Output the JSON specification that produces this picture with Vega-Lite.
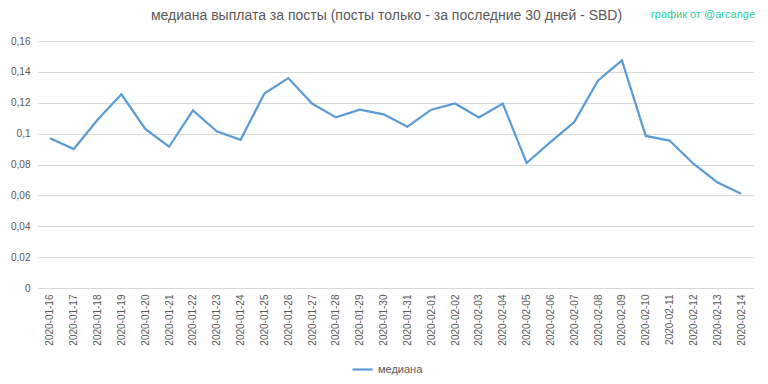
{
  "$schema": "https://vega.github.io/schema/vega-lite/v6.json",
  "width": 715,
  "height": 247,
  "autosize": {"type": "none"},
  "padding": {"left": 38, "top": 41, "right": 15, "bottom": 96},
  "background": "white",
  "config": {
    "view": {"stroke": null},
    "font": "Liberation Sans",
    "axis": {"labelColor": "#595959", "labelFont": "Liberation Sans"}
  },
  "title": {
    "text": "медиана выплата за посты  (посты только - за последние 30 дней - SBD)",
    "anchor": "middle",
    "dx": -9,
    "dy": 28,
    "offset": 14,
    "fontSize": 14,
    "fontWeight": "normal",
    "color": "#595959",
    "font": "Liberation Sans"
  },
  "datasets": {
    "main": [
      {"date": "2020-01-16", "value": 0.097, "series": "медиана"},
      {"date": "2020-01-17", "value": 0.090, "series": "медиана"},
      {"date": "2020-01-18", "value": 0.109, "series": "медиана"},
      {"date": "2020-01-19", "value": 0.1255, "series": "медиана"},
      {"date": "2020-01-20", "value": 0.103, "series": "медиана"},
      {"date": "2020-01-21", "value": 0.0915, "series": "медиана"},
      {"date": "2020-01-22", "value": 0.115, "series": "медиана"},
      {"date": "2020-01-23", "value": 0.1015, "series": "медиана"},
      {"date": "2020-01-24", "value": 0.096, "series": "медиана"},
      {"date": "2020-01-25", "value": 0.126, "series": "медиана"},
      {"date": "2020-01-26", "value": 0.136, "series": "медиана"},
      {"date": "2020-01-27", "value": 0.1195, "series": "медиана"},
      {"date": "2020-01-28", "value": 0.1105, "series": "медиана"},
      {"date": "2020-01-29", "value": 0.1155, "series": "медиана"},
      {"date": "2020-01-30", "value": 0.1125, "series": "медиана"},
      {"date": "2020-01-31", "value": 0.1045, "series": "медиана"},
      {"date": "2020-02-01", "value": 0.1155, "series": "медиана"},
      {"date": "2020-02-02", "value": 0.1195, "series": "медиана"},
      {"date": "2020-02-03", "value": 0.1105, "series": "медиана"},
      {"date": "2020-02-04", "value": 0.1195, "series": "медиана"},
      {"date": "2020-02-05", "value": 0.081, "series": "медиана"},
      {"date": "2020-02-06", "value": 0.0945, "series": "медиана"},
      {"date": "2020-02-07", "value": 0.1075, "series": "медиана"},
      {"date": "2020-02-08", "value": 0.1345, "series": "медиана"},
      {"date": "2020-02-09", "value": 0.1475, "series": "медиана"},
      {"date": "2020-02-10", "value": 0.0985, "series": "медиана"},
      {"date": "2020-02-11", "value": 0.0955, "series": "медиана"},
      {"date": "2020-02-12", "value": 0.0805, "series": "медиана"},
      {"date": "2020-02-13", "value": 0.0685, "series": "медиана"},
      {"date": "2020-02-14", "value": 0.061, "series": "медиана"}
    ],
    "credit": [{"label": "график от @arcange"}]
  },
  "layer": [
    {
      "data": {"name": "main"},
      "mark": {"type": "line", "strokeWidth": 2.2},
      "encoding": {
        "x": {
          "field": "date",
          "type": "ordinal",
          "title": null,
          "scale": {"type": "point", "padding": 0.5},
          "axis": {
            "labelAngle": -90,
            "labelFontSize": 10,
            "labelPadding": 6,
            "ticks": false,
            "grid": false,
            "domainColor": "#d9d9d9",
            "domainWidth": 1
          }
        },
        "y": {
          "field": "value",
          "type": "quantitative",
          "title": null,
          "scale": {"domain": [0, 0.16], "nice": false, "zero": true},
          "axis": {
            "values": [0, 0.02, 0.04, 0.06, 0.08, 0.1, 0.12, 0.14, 0.16],
            "labelExpr": "replace(format(datum.value, '.2~f'), '.', ',')",
            "labelFontSize": 10,
            "labelPadding": 8,
            "ticks": false,
            "domain": false,
            "grid": true,
            "gridColor": "#d9d9d9",
            "gridWidth": 1
          }
        },
        "color": {
          "field": "series",
          "type": "nominal",
          "scale": {"range": ["#5b9bd5"]},
          "legend": {
            "title": null,
            "orient": "none",
            "legendX": 313,
            "legendY": 317,
            "symbolType": "stroke",
            "symbolSize": 400,
            "symbolStrokeWidth": 2.2,
            "labelFontSize": 11,
            "labelColor": "#595959",
            "labelFont": "Liberation Sans"
          }
        }
      }
    },
    {
      "data": {"name": "credit"},
      "mark": {
        "type": "text",
        "align": "right",
        "baseline": "middle",
        "fontSize": 11,
        "color": "#2ecf9a",
        "font": "Liberation Sans"
      },
      "encoding": {
        "text": {"field": "label"},
        "x": {"value": 717},
        "y": {"value": -26}
      }
    }
  ]
}
